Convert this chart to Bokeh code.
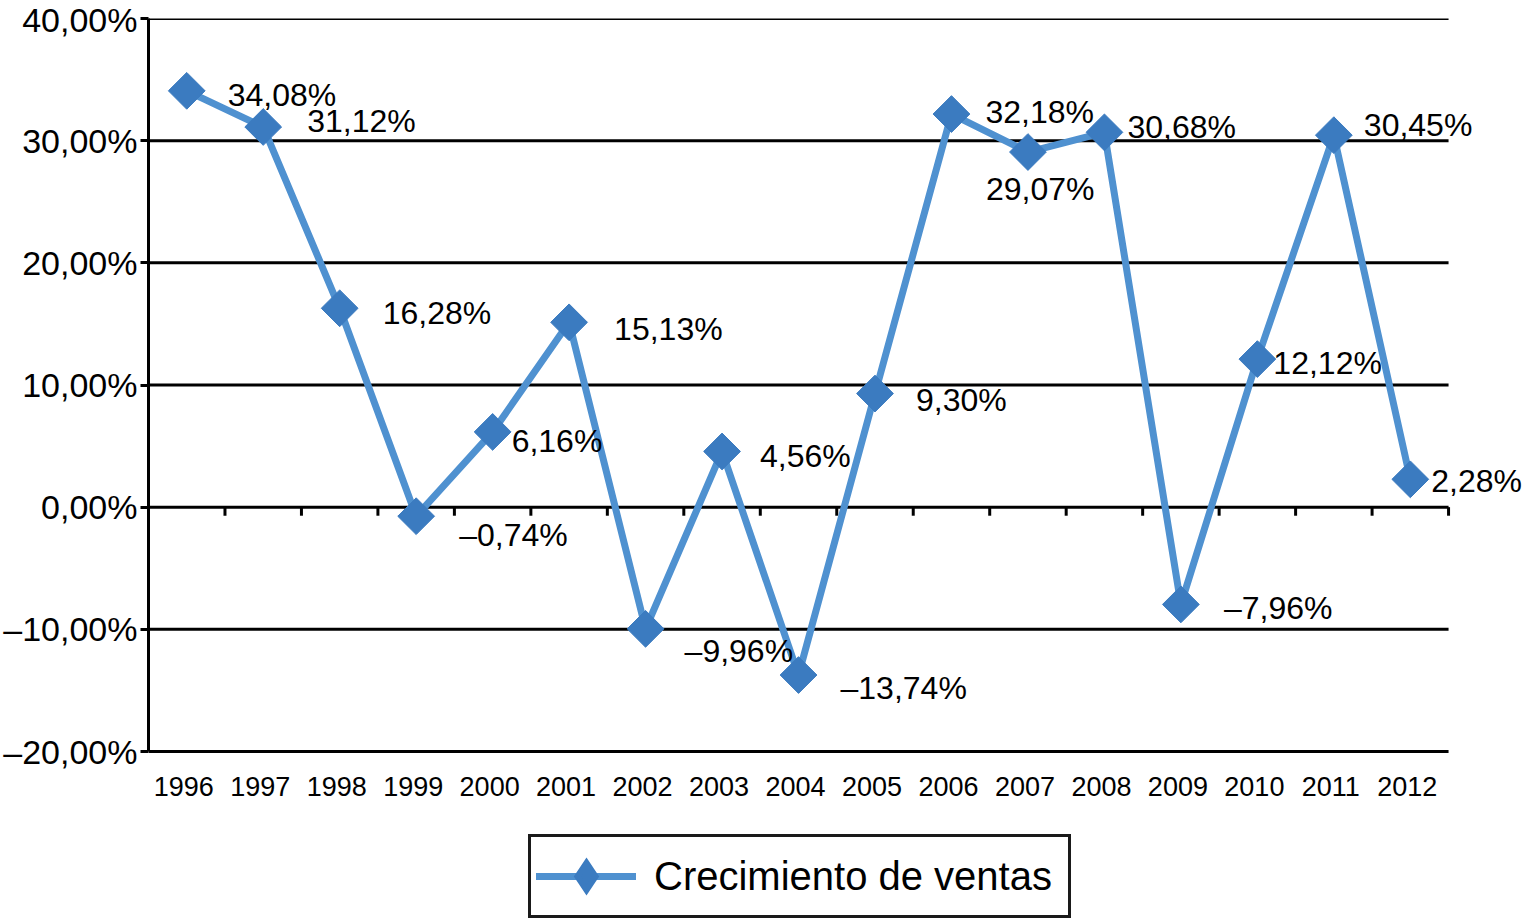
import math
from bokeh.plotting import figure
from bokeh.models import (ColumnDataSource, LabelSet, Legend, LegendItem, FixedTicker,
                          CustomJSTickFormatter, Range1d)
from bokeh.core.properties import value
from bokeh.embed import file_html
from bokeh.resources import INLINE

# ---- data ----
years = ["1996", "1997", "1998", "1999", "2000", "2001", "2002", "2003", "2004",
         "2005", "2006", "2007", "2008", "2009", "2010", "2011", "2012"]
growth = [34.08, 31.12, 16.28, -0.74, 6.16, 15.13, -9.96, 4.56, -13.74,
          9.30, 32.18, 29.07, 30.68, -7.96, 12.12, 30.45, 2.28]
y_ticks = [-20, -10, 0, 10, 20, 30, 40]
series_name = "Crecimiento de ventas"

# ---- label placement (pixel offsets, style only) ----
label_dx = [41, 44, 43, 43, 19, 45, 39, 38, 42, 41, 34, -42, 23, 43, 16, 30, 21]
label_dy = [4, -6, 5, 19, 9, 7, 22, 5, 13, 6, -2, 37, -5, 4, 4, -10, 2]

FONT = "Liberation Sans"
LINE_COLOR = "#4F91D0"
MARK_COLOR = "#3B7BC0"

# ---- layout geometry (pixels) ----
W, H = 1522, 918
LEFT, TOP = 147, 18
PLOT_W, PLOT_H = 1301, 733          # area of the chart grid
FRAME_W, FRAME_H = W - LEFT, H - TOP

n = len(years)
xs = list(range(n))
x_start = -0.5
x_end = x_start + n * FRAME_W / PLOT_W
y_lo, y_hi = min(y_ticks), max(y_ticks)
y_start = y_hi - (y_hi - y_lo) * FRAME_H / PLOT_H

labels = [("%.2f" % v).replace(".", ",").replace("-", "\u2013") + "%" for v in growth]

src = ColumnDataSource(dict(x=xs, y=growth, text=labels,
                            xo=label_dx, yo=[-d for d in label_dy]))

p = figure(x_range=Range1d(x_start, x_end), y_range=Range1d(y_start, y_hi),
           width=W, height=H, x_axis_location=None,
           min_border_left=LEFT, min_border_top=TOP, min_border_right=0, min_border_bottom=0,
           output_backend="svg", toolbar_location=None, background_fill_color="white",
           border_fill_color="white")
p.outline_line_color = None
p.xgrid.visible = False
p.ygrid.visible = False

# y axis
p.yaxis.bounds = (y_lo, y_hi)
p.yaxis.ticker = FixedTicker(ticks=y_ticks)
p.yaxis.formatter = CustomJSTickFormatter(
    code="return tick.toFixed(2).replace('.', ',').replace('-', '\u2013') + '%';")
p.yaxis.axis_line_color = "black"
p.yaxis.axis_line_width = 3
p.yaxis.major_tick_line_color = "black"
p.yaxis.major_tick_line_width = 3
p.yaxis.major_tick_out = 8
p.yaxis.major_tick_in = 0
p.yaxis.minor_tick_line_color = None
p.yaxis.major_label_text_font = FONT
p.yaxis.major_label_text_font_size = "34px"
p.yaxis.major_label_text_color = "black"
p.yaxis.major_label_standoff = 3

# horizontal grid lines, limited to the category span
p.segment(x0=[x_start] * len(y_ticks), y0=y_ticks, x1=[n - 0.5] * len(y_ticks), y1=y_ticks,
          line_color="black", line_width=3)

# category boundary ticks on the zero line
bx = [i + 0.5 for i in xs]
p.segment(x0=bx, y0=[0] * n, x1=bx, y1=[-0.7] * n, line_color="black", line_width=3)

# category labels under the chart
cat_src = ColumnDataSource(dict(x=xs, y=[y_lo] * n, text=years))
p.add_layout(LabelSet(x="x", y="y", text="text", source=cat_src, x_offset=-3, y_offset=-35,
                      text_font=value(FONT), text_font_size="27px", text_color="black",
                      text_align="center", text_baseline="middle"))

# series
line_r = p.line("x", "y", source=src, line_color=LINE_COLOR, line_width=7,
                line_join="round", line_cap="round")
mark_r = p.scatter("x", "y", source=src, marker="square", angle=math.pi / 4, size=26,
                   fill_color=MARK_COLOR, line_color=MARK_COLOR)
# legend swatch marker (a diamond, same series; not drawn in the plot itself)
legend_mark = p.scatter("x", "y", source=src, marker="diamond", size=26,
                        fill_color=MARK_COLOR, line_color=MARK_COLOR, line_width=6,
                        line_join="miter", visible=False)

p.add_layout(LabelSet(x="x", y="y", text="text", source=src, x_offset="xo", y_offset="yo",
                      text_font=value(FONT), text_font_size="32px", text_color="black",
                      text_align="left", text_baseline="middle"))

legend = Legend(items=[LegendItem(label=series_name, renderers=[line_r, legend_mark])],
                location=(380, 0), orientation="horizontal",
                label_text_font=FONT, label_text_font_size="40px", label_text_color="black",
                border_line_color="#1a1a1a", border_line_width=3, border_line_alpha=1.0,
                inactive_fill_alpha=0.0,
                padding=5, margin=0, glyph_width=100, glyph_height=68,
                label_standoff=18, label_width=409, spacing=0)
p.add_layout(legend)

open("out.html", "w").write(file_html(p, INLINE))
